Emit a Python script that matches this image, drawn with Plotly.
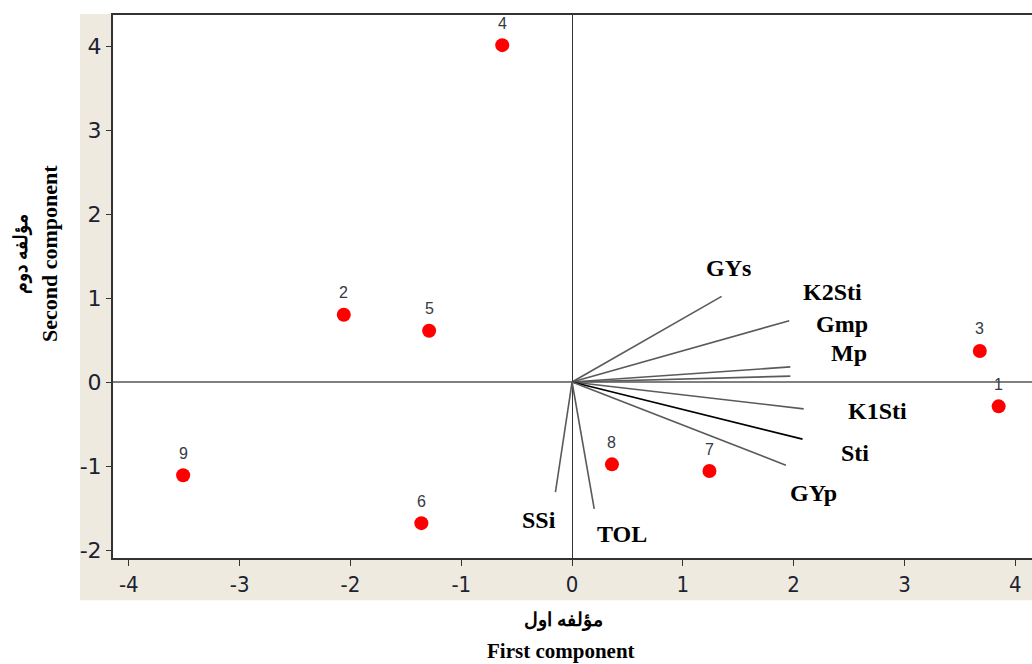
import plotly.graph_objects as go

# Genotype scores (PC1, PC2)
genotypes = ["1", "2", "3", "4", "5", "6", "7", "8", "9"]
pc1 = [3.85, -2.06, 3.68, -0.63, -1.29, -1.36, 1.24, 0.36, -3.51]
pc2 = [-0.29, 0.80, 0.37, 4.01, 0.61, -1.68, -1.06, -0.98, -1.11]

# Index loadings (vector tips)
indices = ["GYs", "K2Sti", "Gmp", "Mp", "K1Sti", "Sti", "GYp", "SSi", "TOL"]
load1 = [1.35, 1.96, 1.97, 1.97, 2.09, 2.08, 1.93, -0.15, 0.20]
load2 = [1.02, 0.73, 0.18, 0.07, -0.32, -0.68, -0.99, -1.31, -1.51]

# Label anchor points for index names
label_x = [1.41, 2.35, 2.44, 2.50, 2.76, 2.55, 2.18, -0.30, 0.45]
label_y = [1.36, 1.07, 0.69, 0.34, -0.34, -0.85, -1.32, -1.64, -1.81]

x_ticks = [-4, -3, -2, -1, 0, 1, 2, 3, 4]
y_ticks = [-2, -1, 0, 1, 2, 3, 4]

fig = go.Figure()

for name, a, b in zip(indices, load1, load2):
    fig.add_trace(go.Scatter(
        x=[0, a], y=[0, b], mode="lines",
        line=dict(color="#000000" if name == "Sti" else "#5a5a5a", width=1.6),
        hoverinfo="skip", showlegend=False))

fig.add_trace(go.Scatter(
    x=pc1, y=pc2, mode="markers",
    marker=dict(color="#ff0000", size=14),
    showlegend=False))

for g, a, b in zip(genotypes, pc1, pc2):
    fig.add_annotation(x=a, y=b, text=g, showarrow=False, yshift=22,
                       font=dict(family="Liberation Sans", size=16, color="#333a44"),
                       xanchor="center", yanchor="middle")

for name, lx, ly in zip(indices, label_x, label_y):
    fig.add_annotation(x=lx, y=ly, text="<b>" + name + "</b>", showarrow=False,
                       font=dict(family="Liberation Serif", size=24, color="#000000"),
                       xanchor="center", yanchor="middle")

# beige frame strips outside plot area
beige = "#eeeae0"
fig.add_shape(type="rect", xref="paper", yref="paper", x0=-0.036, x1=0, y0=-0.078, y1=1.002,
              fillcolor=beige, line_width=0, layer="below")
fig.add_shape(type="rect", xref="paper", yref="paper", x0=0, x1=1, y0=-0.078, y1=0,
              fillcolor=beige, line_width=0, layer="below")

# axis titles
fig.add_annotation(xref="paper", yref="paper", x=-0.1, y=0.56, xanchor="center", yanchor="middle",
                   text="<b>مؤلفه دوم</b>", textangle=-90, showarrow=False,
                   font=dict(family="Liberation Serif", size=19, color="#000"))
fig.add_annotation(xref="paper", yref="paper", x=-0.0685, y=0.56, xanchor="center", yanchor="middle",
                   text="<b>Second component</b>", textangle=-90, showarrow=False,
                   font=dict(family="Liberation Serif", size=22, color="#000"))
fig.add_annotation(xref="paper", yref="paper", x=0.49, y=-0.114, xanchor="center", yanchor="middle",
                   text="<b>مؤلفه اول</b>", showarrow=False,
                   font=dict(family="Liberation Serif", size=19, color="#000"))
fig.add_annotation(xref="paper", yref="paper", x=0.488, y=-0.171, xanchor="center", yanchor="middle",
                   text="<b>First component</b>", showarrow=False,
                   font=dict(family="Liberation Serif", size=21, color="#000"))

fig.update_xaxes(range=[-4.143, 4.151], tickvals=x_ticks, ticktext=[str(v) for v in x_ticks],
                 showgrid=False, zeroline=True, zerolinecolor="#333333", zerolinewidth=1,
                 showline=True, linecolor="#333333", linewidth=2, mirror=True,
                 ticks="outside", ticklen=6, tickcolor="#333333",
                 tickfont=dict(family="DejaVu Sans Condensed", size=22, color="#1c2230"))
fig.update_yaxes(range=[-2.095, 4.369], tickvals=y_ticks, ticktext=[str(v) for v in y_ticks],
                 showgrid=False, zeroline=True, zerolinecolor="#808080", zerolinewidth=1.6,
                 showline=True, linecolor="#333333", linewidth=2, mirror=False,
                 ticks="outside", ticklen=5, tickcolor="#333333",
                 tickfont=dict(family="DejaVu Sans", size=22, color="#1c2230"))

fig.update_layout(width=1032, height=664, margin=dict(l=113, r=0, t=15, b=106),
                  paper_bgcolor="white", plot_bgcolor="white", showlegend=False)

fig.write_html("out.html", config={"displayModeBar": False},
               post_script="document.body.style.margin='0';document.body.style.overflow='hidden';")
